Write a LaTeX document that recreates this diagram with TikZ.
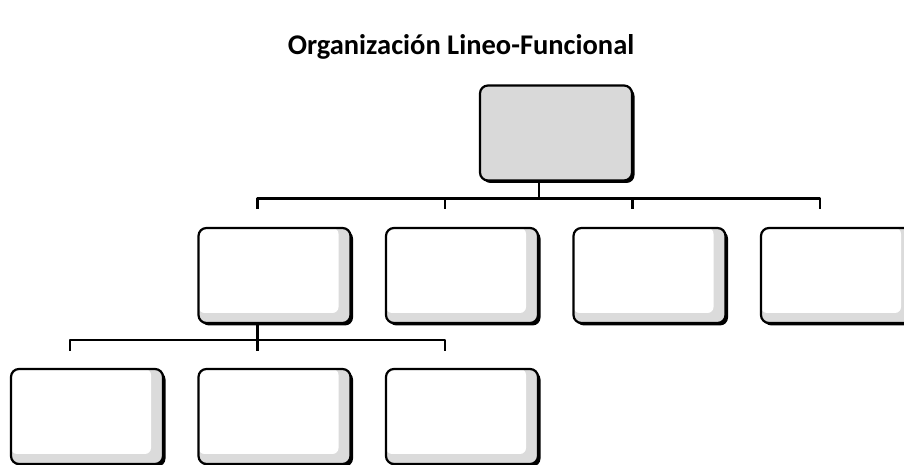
\documentclass[tikz,border=0pt]{standalone}
\usepackage{fontspec}
\setmainfont{Carlito}
\usepackage{tikz}
\usetikzlibrary{positioning,shadows,calc}

\begin{document}
\begin{tikzpicture}[
    x=1pt, y=1pt,
    node distance=43.8pt and 33.3pt,
    titleText/.style={
        font=\bfseries\fontsize{28.5}{33}\selectfont, inner sep=0pt
    },
    orgBox/.style={
        rectangle, rounded corners=8pt, draw=black, line width=2.2pt,
        minimum width=152pt, minimum height=95pt, inner sep=0pt,
        fill=gray!28,
        path picture={
            \fill[white, rounded corners=6pt]
                (path picture bounding box.north west) rectangle
                ([xshift=-12pt, yshift=10pt]path picture bounding box.south east);
        },
        drop shadow={shadow xshift=2.5pt, shadow yshift=-2.5pt, fill=black, opacity=1}
    },
    topBox/.style={
        orgBox, path picture={}, fill=gray!30
    },
    linkLine/.style={
        draw=black, line width=2.6pt, line join=round
    }
]
\useasboundingbox (0,0) rectangle (904,465);

% Title
\node[titleText] (titulo) at (461,418) {Organización Lineo-Funcional};

% Boxes
\node[topBox] (direccion) at (556,332) {};

\node[orgBox] (jefeA) at (274.5,189.5) {};
\node[orgBox, right=of jefeA] (jefeB) {};
\node[orgBox, right=of jefeB] (jefeC) {};
\node[orgBox, right=of jefeC] (jefeD) {};

\node[orgBox, below=of jefeA] (subB) {};
\node[orgBox, left=of subB] (subA) {};
\node[orgBox, right=of subB] (subC) {};

% Connectors
\foreach \j in {jefeA,jefeB,jefeC,jefeD}
    \draw[linkLine] ([xshift=-17pt]direccion.south) -- ++(0,-17)
        -| ([xshift=-17pt, yshift=18pt]\j.north);
\foreach \s in {subA,subB,subC}
    \draw[linkLine] ([xshift=-17pt]jefeA.south) -- ++(0,-16)
        -| ([xshift=-17pt, yshift=17pt]\s.north);

\end{tikzpicture}
\end{document}
